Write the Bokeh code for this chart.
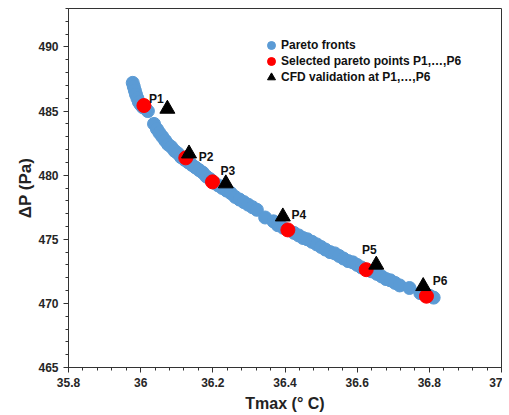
from bokeh.plotting import figure
from bokeh.models import (ColumnDataSource, Range1d, SingleIntervalTicker,
                          CustomJSTickFormatter, Legend, LegendItem)
from bokeh.core.properties import value
from bokeh.embed import file_html
from bokeh.resources import INLINE

# ---------------- data ----------------
pareto_t = [35.978, 35.981, 35.984, 35.987, 35.991, 35.995, 36.000, 36.006, 36.013, 36.020,
            36.037, 36.045, 36.052, 36.060, 36.068, 36.076, 36.085, 36.094, 36.103, 36.112,
            36.122, 36.132, 36.142, 36.152, 36.162, 36.172, 36.182, 36.192, 36.204, 36.215,
            36.226, 36.238, 36.250, 36.262, 36.274, 36.286, 36.298, 36.310, 36.322, 36.345,
            36.368, 36.380, 36.395, 36.425, 36.438, 36.450, 36.462, 36.475, 36.488, 36.500,
            36.512, 36.525, 36.538, 36.550, 36.562, 36.575, 36.588, 36.600, 36.612, 36.640,
            36.655, 36.668, 36.680, 36.692, 36.705, 36.718, 36.745, 36.775, 36.800, 36.812]
pareto_dp = [487.2, 486.9, 486.6, 486.3, 486.0, 485.7, 485.5, 485.3, 485.2, 485.0,
             484.0, 483.6, 483.3, 483.0, 482.7, 482.4, 482.2, 481.9, 481.7, 481.4,
             481.2, 481.0, 480.8, 480.6, 480.4, 480.2, 479.9, 479.7, 479.4, 479.2,
             479.0, 478.8, 478.6, 478.3, 478.1, 477.9, 477.7, 477.5, 477.3, 476.7,
             476.4, 476.1, 475.9, 475.5, 475.3, 475.1, 475.0, 474.8, 474.6, 474.4,
             474.2, 474.0, 473.9, 473.7, 473.5, 473.3, 473.2, 473.0, 472.8, 472.5,
             472.3, 472.1, 471.9, 471.8, 471.6, 471.4, 471.2, 470.8, 470.6, 470.45]

point_names = ["P1", "P2", "P3", "P4", "P5", "P6"]
selected_t = [36.009, 36.125, 36.199, 36.408, 36.625, 36.792]
selected_dp = [485.43, 481.35, 479.48, 475.73, 472.63, 470.56]
cfd_t = [36.074, 36.134, 36.236, 36.394, 36.653, 36.783]
cfd_dp = [485.17, 481.68, 479.35, 476.77, 473.01, 471.34]

legend_labels = ["Pareto fronts", "Selected pareto points P1,\u2026,P6",
                 "CFD validation at P1,\u2026,P6"]
y_title = "\u0394P (Pa)"
x_title = "Tmax (\u00b0 C)"

# label offsets (style, in pixels) relative to each CFD point
label_dx = [-11, 17, 2, 16, -7, 17]
label_dy = [-10, 3, -13, -2, -15, -5]

FONT = "Liberation Sans"

p = figure(width=502, height=414, output_backend="svg", toolbar_location=None,
           x_range=Range1d(35.8, 37.0), y_range=Range1d(465, 493),
           min_border_left=68, min_border_right=1, min_border_top=8,
           min_border_bottom=44)
p.xgrid.visible = False
p.ygrid.visible = False
p.outline_line_color = "#333333"
p.outline_line_width = 1

# axes
p.xaxis.ticker = SingleIntervalTicker(interval=0.2, num_minor_ticks=5)
p.yaxis.ticker = SingleIntervalTicker(interval=5, num_minor_ticks=5)
p.xaxis.formatter = CustomJSTickFormatter(code="return String(Math.round(tick*10)/10);")
for ax in (p.xaxis[0], p.yaxis[0]):
    ax.axis_line_color = "#333333"
    ax.major_tick_line_color = "#333333"
    ax.minor_tick_line_color = "#333333"
    ax.major_tick_out = 5
    ax.major_tick_in = 0
    ax.minor_tick_out = 3
    ax.minor_tick_in = 0
    ax.major_label_text_font = FONT
    ax.major_label_text_font_style = "bold"
    ax.major_label_text_font_size = "12px"
    ax.major_label_text_color = "#262626"
    ax.major_label_standoff = 5
    ax.axis_label_text_font = FONT
    ax.axis_label_text_font_style = "bold"
    ax.axis_label_text_color = "#222222"

p.yaxis.axis_label = y_title
p.yaxis.axis_label_text_font_size = "17px"
p.yaxis.axis_label_standoff = 0
p.xaxis.axis_label = x_title
p.xaxis.axis_label_text_font_size = "16px"
p.xaxis.axis_label_standoff = 5

# data
src_p = ColumnDataSource(dict(x=pareto_t, y=pareto_dp))
src_s = ColumnDataSource(dict(x=selected_t, y=selected_dp))
src_c = ColumnDataSource(dict(x=cfd_t, y=cfd_dp, name=point_names,
                              dx=label_dx, dy=label_dy))

r_p = p.scatter("x", "y", source=src_p, size=13, marker="circle",
                fill_color="#5B9BD5", line_color="#5B9BD5")
r_s = p.scatter("x", "y", source=src_s, size=14, marker="circle",
                fill_color="#FF0000", line_color="#FF0000")
r_c = p.scatter("x", "y", source=src_c, size=15, marker="triangle",
                fill_color="#000000", line_color="#000000")
p.text("x", "y", text="name", source=src_c, x_offset="dx", y_offset="dy",
       text_font=value(FONT), text_font_style="bold", text_font_size=value("12px"),
       text_align="center", text_baseline="middle", text_color="#111111")

# one legend per row so that row pitch can follow the reference
rows = [(legend_labels[0], r_p, 311), (legend_labels[1], r_s, 295),
        (legend_labels[2], r_c, 279)]
for lab, rend, ypos in rows:
    lg = Legend(items=[LegendItem(label=lab, renderers=[rend])],
                location=(193, ypos), padding=0, margin=0,
                glyph_width=20, glyph_height=22, label_standoff=0, spacing=0,
                label_text_font=FONT, label_text_font_style="bold",
                label_text_font_size="12px", label_text_color="#111111",
                background_fill_alpha=0, border_line_alpha=0)
    p.add_layout(lg, "center")

open("out.html", "w").write(file_html(p, INLINE))
